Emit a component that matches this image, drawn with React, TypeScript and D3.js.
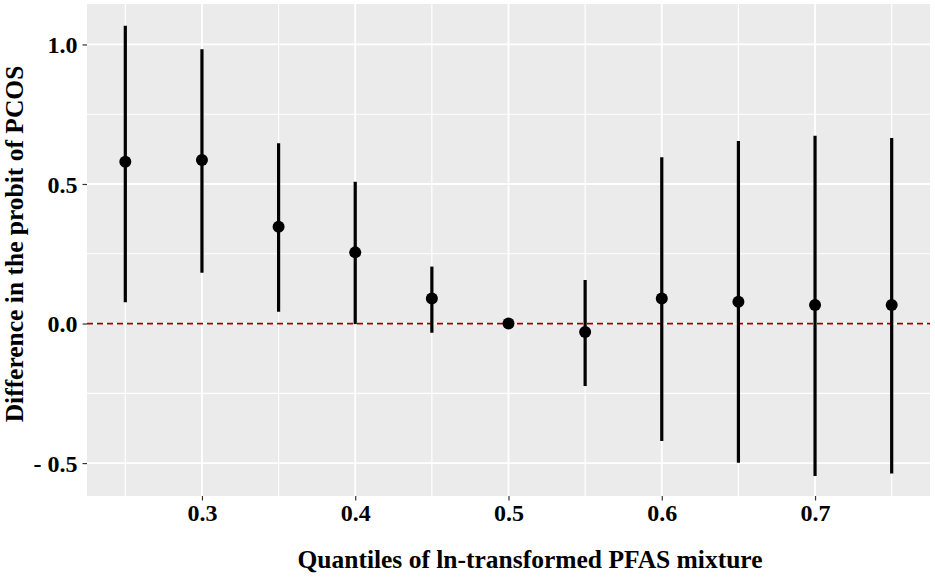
import { useEffect, useRef } from "react"
import * as d3 from "d3"

// Quantile of the PFAS mixture and the estimated difference (with 95% interval)
const quantiles = [0.25, 0.3, 0.35, 0.4, 0.45, 0.5, 0.55, 0.6, 0.65, 0.7, 0.75]
const estimate = [0.58, 0.586, 0.347, 0.255, 0.09, 0.0, -0.03, 0.09, 0.078, 0.066, 0.066]
const lower = [0.076, 0.182, 0.042, -0.002, -0.033, 0.0, -0.224, -0.421, -0.499, -0.546, -0.537]
const upper = [1.067, 0.983, 0.646, 0.508, 0.204, 0.0, 0.156, 0.596, 0.654, 0.673, 0.665]

const xTicks = [0.3, 0.4, 0.5, 0.6, 0.7]
const xMinor = [0.25, 0.35, 0.45, 0.55, 0.65, 0.75]
const yTicks = [-0.5, 0, 0.5, 1.0]
const yMinor = [-0.25, 0.25, 0.75]

const xTitle = "Quantiles of ln-transformed PFAS mixture"
const yTitle = "Difference in the probit of PCOS"

export default function App() {
  const svgRef = useRef<SVGSVGElement>(null)

  useEffect(() => {
    if (!svgRef.current) return
    const svg = d3.select(svgRef.current)
    svg.selectAll("*").remove()

    const width = 935
    const height = 577
    const margin = { top: 4, right: 5, bottom: 81, left: 87 }
    const font = "'Liberation Serif', 'Times New Roman', serif"

    const x = d3.scaleLinear().domain([0.225, 0.775]).range([margin.left, width - margin.right])
    const y = d3.scaleLinear().domain([-0.618, 1.145]).range([height - margin.bottom, margin.top])

    // Panel background
    svg
      .append("rect")
      .attr("x", margin.left)
      .attr("y", margin.top)
      .attr("width", width - margin.left - margin.right)
      .attr("height", height - margin.top - margin.bottom)
      .attr("fill", "#EBEBEB")

    const grid = svg.append("g")

    // Minor grid
    grid
      .selectAll(".ymin")
      .data(yMinor)
      .enter()
      .append("line")
      .attr("x1", margin.left)
      .attr("x2", width - margin.right)
      .attr("y1", (d) => y(d))
      .attr("y2", (d) => y(d))
      .attr("stroke", "white")
      .attr("stroke-width", 1.2)
    grid
      .selectAll(".xmin")
      .data(xMinor)
      .enter()
      .append("line")
      .attr("x1", (d) => x(d))
      .attr("x2", (d) => x(d))
      .attr("y1", margin.top)
      .attr("y2", height - margin.bottom)
      .attr("stroke", "white")
      .attr("stroke-width", 1.2)

    // Major grid
    grid
      .selectAll(".ymaj")
      .data(yTicks)
      .enter()
      .append("line")
      .attr("x1", margin.left)
      .attr("x2", width - margin.right)
      .attr("y1", (d) => y(d))
      .attr("y2", (d) => y(d))
      .attr("stroke", "white")
      .attr("stroke-width", 1.8)
    grid
      .selectAll(".xmaj")
      .data(xTicks)
      .enter()
      .append("line")
      .attr("x1", (d) => x(d))
      .attr("x2", (d) => x(d))
      .attr("y1", margin.top)
      .attr("y2", height - margin.bottom)
      .attr("stroke", "white")
      .attr("stroke-width", 1.8)

    // Reference line at zero
    svg
      .append("line")
      .attr("x1", margin.left)
      .attr("x2", width - margin.right)
      .attr("y1", y(0))
      .attr("y2", y(0))
      .attr("stroke", "#9E0000")
      .attr("stroke-width", 1.7)
      .attr("stroke-dasharray", "6,4")

    // Error bars
    svg
      .selectAll(".bar")
      .data(quantiles)
      .enter()
      .append("line")
      .attr("x1", (d) => x(d))
      .attr("x2", (d) => x(d))
      .attr("y1", (d, i) => y(lower[i]))
      .attr("y2", (d, i) => y(upper[i]))
      .attr("stroke", "black")
      .attr("stroke-width", 3.2)

    // Points
    svg
      .selectAll(".pt")
      .data(quantiles)
      .enter()
      .append("circle")
      .attr("cx", (d) => x(d))
      .attr("cy", (d, i) => y(estimate[i]))
      .attr("r", 6)
      .attr("fill", "black")

    // X axis
    const xAxis = svg.append("g").attr("transform", `translate(0, ${height - margin.bottom})`)
    xAxis
      .call(d3.axisBottom(x).tickValues(xTicks).tickSize(4.5).tickPadding(3).tickFormat(d3.format(".1f")))
      .call((g) => g.select(".domain").remove())
    xAxis.selectAll(".tick line").attr("stroke", "#333333").attr("stroke-width", 1.2)
    xAxis
      .selectAll(".tick text")
      .attr("fill", "black")
      .style("font-family", font)
      .style("font-weight", "bold")
      .style("font-size", "24px")

    // Y axis (negative labels drawn as "- 0.5" like the original)
    const yAxis = svg.append("g").attr("transform", `translate(${margin.left}, 0)`)
    yAxis
      .call(
        d3
          .axisLeft(y)
          .tickValues(yTicks)
          .tickSize(4.5)
          .tickPadding(5)
          .tickFormat((d) => {
            const v = d as number
            const s = d3.format(".1f")(Math.abs(v))
            return v < 0 ? "- " + s : s
          })
      )
      .call((g) => g.select(".domain").remove())
    yAxis.selectAll(".tick line").attr("stroke", "#333333").attr("stroke-width", 1.2)
    yAxis
      .selectAll(".tick text")
      .attr("fill", "black")
      .attr("dy", "0.34em")
      .style("white-space", "pre")
      .style("font-family", font)
      .style("font-weight", "bold")
      .style("font-size", "24px")

    // Axis titles
    svg
      .append("text")
      .attr("x", 530)
      .attr("y", 568)
      .attr("text-anchor", "middle")
      .style("font-family", font)
      .style("font-weight", "bold")
      .style("font-size", "25.5px")
      .text(xTitle)

    svg
      .append("text")
      .attr("transform", `translate(23, 244) rotate(-90)`)
      .attr("text-anchor", "middle")
      .style("font-family", font)
      .style("font-weight", "bold")
      .style("font-size", "25.5px")
      .text(yTitle)
  }, [])

  return (
    <svg
      ref={svgRef}
      width={935}
      height={577}
      style={{ position: "absolute", left: 0, top: 0, background: "white" }}
    ></svg>
  )
}
